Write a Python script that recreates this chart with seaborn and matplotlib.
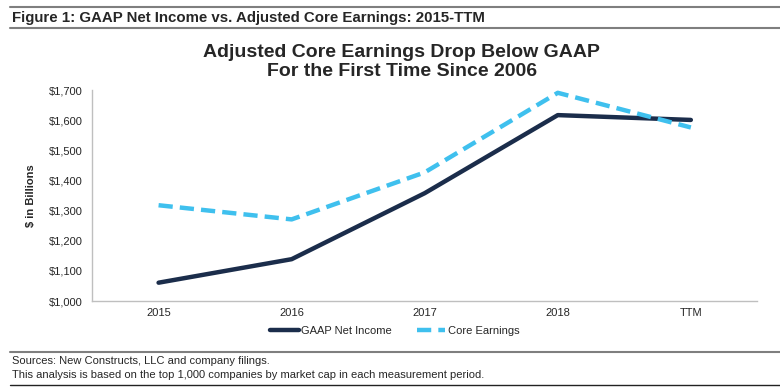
import pandas as pd
import seaborn as sns
from matplotlib import pyplot as plt
from matplotlib.lines import Line2D

PERIODS = ['2015', '2016', '2017', '2018', 'TTM']
GAAP_NET_INCOME = [1061, 1139, 1358, 1617, 1601]
CORE_EARNINGS = [1318, 1271, 1427, 1691, 1576]
Y_TICKS = [1000, 1100, 1200, 1300, 1400, 1500, 1600, 1700]

NAVY = '#1b2d4b'
LIGHT_BLUE = '#3fc0ee'


def main():
    sns.set_style('white')
    plt.rcParams['font.family'] = ['Liberation Sans', 'DejaVu Sans']

    df = pd.DataFrame({'PERIOD': PERIODS, 'GAAP': GAAP_NET_INCOME, 'CORE': CORE_EARNINGS})
    df['X'] = range(len(PERIODS))

    fig = plt.figure(figsize=(7.8, 3.9), dpi=100)
    ax = fig.add_axes([0.118, 0.228, 0.853, 0.541])

    sns.lineplot(x='X', y='GAAP', data=df, color=NAVY, linewidth=3.2, ax=ax)
    sns.lineplot(x='X', y='CORE', data=df, color=LIGHT_BLUE, linewidth=3.2, ax=ax)
    ax.lines[1].set_dashes([3.2, 1.6])

    ax.set_xlim(-0.5, len(PERIODS) - 0.5)
    ax.set_ylim(1000, 1700)
    ax.set_xticks(range(len(PERIODS)))
    ax.set_xticklabels(PERIODS, fontsize=8, color='#262626')
    ax.set_yticks(Y_TICKS)
    ax.set_yticklabels([f'${v:,}' for v in Y_TICKS], fontsize=8, color='#262626')
    ax.tick_params(axis='x', length=0, pad=5)
    ax.tick_params(axis='y', length=0, pad=7)
    ax.set_xlabel('')
    ax.set_ylabel('$ in Billions', fontsize=8, fontweight='bold', labelpad=9)
    for side in ['top', 'right']:
        ax.spines[side].set_visible(False)
    for side in ['left', 'bottom']:
        ax.spines[side].set_color('#bfbfbf')
        ax.spines[side].set_linewidth(1)

    handles = [Line2D([], [], color=NAVY, linewidth=3.2),
               Line2D([], [], color=LIGHT_BLUE, linewidth=3.2, dashes=[3.2, 1.6])]
    ax.legend(handles, ['GAAP Net Income', 'Core Earnings'], loc='upper center',
              bbox_to_anchor=(0.455, -0.07), ncol=2, frameon=False, fontsize=8,
              handlelength=2.6, handletextpad=0.2, columnspacing=2.2)

    # chart title
    fig.text(0.515, 0.841, 'Adjusted Core Earnings Drop Below GAAP\nFor the First Time Since 2006',
             ha='center', va='center', fontsize=14, fontweight='bold', linespacing=1.15)

    # figure header with rules
    fig.add_artist(Line2D([0.013, 1.0], [0.983, 0.983], color='#7f7f7f', linewidth=1.5))
    fig.text(0.016, 0.955, 'Figure 1: GAAP Net Income vs. Adjusted Core Earnings: 2015-TTM',
             ha='left', va='center', fontsize=10.8, fontweight='bold')
    fig.add_artist(Line2D([0.013, 1.0], [0.928, 0.928], color='#7f7f7f', linewidth=1.5))

    # footer with rules
    fig.add_artist(Line2D([0.013, 1.0], [0.097, 0.097], color='#7f7f7f', linewidth=1.5))
    fig.text(0.016, 0.075, 'Sources: New Constructs, LLC and company filings.',
             ha='left', va='center', fontsize=8)
    fig.text(0.016, 0.038,
             'This analysis is based on the top 1,000 companies by market cap in each measurement period.',
             ha='left', va='center', fontsize=8)
    fig.add_artist(Line2D([0.013, 1.0], [0.014, 0.014], color='#222222', linewidth=1))

    fig.savefig('out.png', dpi=100)


if __name__ == '__main__':
    main()
